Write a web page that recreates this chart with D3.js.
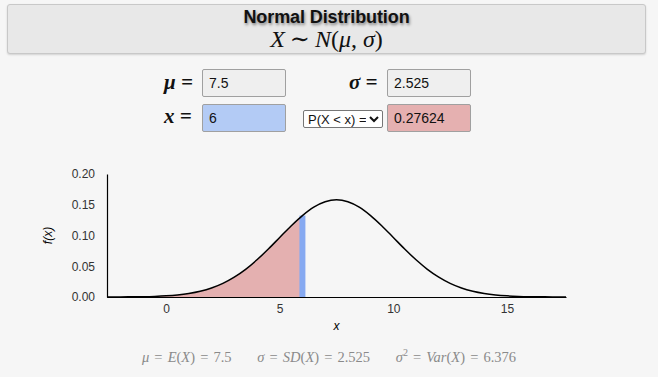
<!DOCTYPE html>
<html>
<head>
<meta charset="utf-8">
<script src="https://cdn.jsdelivr.net/npm/d3@7"></script>
<style>
  body { margin: 0; background: #f6f6f6; font-family: "Liberation Sans", Arial, sans-serif; width: 658px; height: 377px; overflow: hidden; position: relative; }
  .title-box { position: absolute; left: 7px; top: 4px; width: 637px; height: 48px; background: #e8e8e8; border: 1px solid #c8c8c8; border-radius: 3px; box-shadow: 0 1px 2px rgba(0,0,0,0.15); text-align: center; }
  .title { font-weight: bold; font-size: 18px; color: #111; margin-top: 3px; line-height: 18px; text-shadow: 1px 2px 3px rgba(0,0,0,0.45); letter-spacing: -0.1px; }
  .formula { font-family: "Liberation Serif", "DejaVu Serif", serif; font-style: italic; font-size: 24px; line-height: 24px; color: #111; margin-top: 1px; }
  .formula .up { font-style: normal; }
  .formula .rel { font-style: normal; margin: 0 5px; }
  .lbl { position: absolute; font-family: "Liberation Serif", "DejaVu Serif", serif; font-size: 21px; font-style: italic; font-weight: bold; color: #111; }
  .box { position: absolute; box-sizing: border-box; height: 28px; width: 84px; border: 1px solid #a0a0a0; border-radius: 2px; background: #efefef; font-size: 14px; line-height: 26px; padding-left: 6px; color: #111; }
  select { position: absolute; left: 303px; top: 110px; width: 80px; height: 18px; font-size: 13px; font-family: "Liberation Sans", Arial, sans-serif; padding: 0; border: 1px solid #767676; border-radius: 2px; background: #fff; color: #111; }
  .footer { position: absolute; left: 0; width: 658px; top: 347px; text-align: center; font-family: "Liberation Serif", "DejaVu Serif", serif; font-size: 14.5px; color: #8a8a8a; word-spacing: 1.5px; }
  svg { position: absolute; left: 0; top: 0; }
</style>
</head>
<body>
<div class="title-box">
  <div class="title">Normal Distribution</div>
  <div class="formula">X<span class="rel">∼</span>N<span class="up">(</span>μ<span class="up">,</span> σ<span class="up">)</span></div>
</div>
<div id="controls"></div>
<svg id="chart" width="658" height="377"></svg>
<div class="footer" id="footer"></div>
<script>
// Parameters shown in the inputs
const mu = 7.5;
const sigma = 2.525;
const xValue = 6;
const probLabel = "P(X < x) =";
const probValue = "0.27624";
const variance = "6.376";

// Density curve
const curveX = [-2.6, -2.5, -2, -1.5, -1, -0.5, 0, 0.5, 1, 1.5, 2, 2.5, 3, 3.5, 4, 4.5, 5, 5.5, 6, 6.5, 7, 7.5,
                8, 8.5, 9, 9.5, 10, 10.5, 11, 11.5, 12, 12.5, 13, 13.5, 14, 14.5, 15, 15.5, 16, 16.5, 17, 17.5, 17.6];
const curveY = [0.0001, 0.0001, 0.0001, 0.0003, 0.0005, 0.0010, 0.0019, 0.0034, 0.0058, 0.0094, 0.0147, 0.0222,
                0.0323, 0.0450, 0.0605, 0.0780, 0.0968, 0.1155, 0.1324, 0.1461, 0.1549, 0.1580,
                0.1549, 0.1461, 0.1324, 0.1155, 0.0968, 0.0780, 0.0605, 0.0450, 0.0323, 0.0222, 0.0147,
                0.0094, 0.0058, 0.0034, 0.0019, 0.0010, 0.0005, 0.0003, 0.0001, 0.0001, 0.0001];
const xTicks = [0, 5, 10, 15];
const yTicks = [0, 0.05, 0.10, 0.15, 0.20];

// Controls
const controls = d3.select("#controls");
controls.append("div").attr("class", "lbl").style("left", "164px").style("top", "70px").text("μ =");
controls.append("div").attr("class", "box").style("left", "202px").style("top", "69px").text(mu);
controls.append("div").attr("class", "lbl").style("left", "349px").style("top", "70px").text("σ =");
controls.append("div").attr("class", "box").style("left", "387px").style("top", "69px").text(sigma);
controls.append("div").attr("class", "lbl").style("left", "164px").style("top", "104px").text("x =");
controls.append("div").attr("class", "box").style("left", "202px").style("top", "104px").style("background", "#b3cbf5").text(xValue);
controls.append("select").append("option").text(probLabel);
controls.append("div").attr("class", "box").style("left", "387px").style("top", "104px").style("background", "#e5b0b0").text(probValue);

d3.select("#footer").html(
  `<i>μ</i> = <i>E</i>(<i>X</i>) = ${mu} &nbsp;&nbsp;&nbsp; <i>σ</i> = <i>SD</i>(<i>X</i>) = ${sigma} &nbsp;&nbsp;&nbsp; <i>σ</i><sup style="font-size:10px">2</sup> = <i>Var</i>(<i>X</i>) = ${variance}`
);

// Chart
const margin = { top: 174, left: 107 },
      width = 459,
      height = 123;

const svg = d3.select("#chart")
              .append("g")
              .attr("transform", `translate(${margin.left},${margin.top})`);

const data = curveX.map((x, i) => ({ x: x, y: curveY[i] }));

const x = d3.scaleLinear().domain([curveX[0], curveX[curveX.length - 1]]).range([0, width]);
const y = d3.scaleLinear().domain([0, 0.2]).range([height, 0]);

// Shaded area up to x
const area = d3.area().x(d => x(d.x)).y0(height).y1(d => y(d.y)).curve(d3.curveMonotoneX);
svg.append("path")
   .datum(data.filter(d => d.x <= xValue))
   .attr("d", area)
   .attr("fill", "#e4b0b0");

// Marker at x
const fx = curveY[curveX.indexOf(xValue)];
svg.append("line")
   .attr("x1", x(xValue)).attr("x2", x(xValue))
   .attr("y1", height).attr("y2", y(fx))
   .attr("stroke", "#86a9f1")
   .attr("stroke-width", 6);

// Density curve
const line = d3.line().x(d => x(d.x)).y(d => y(d.y)).curve(d3.curveMonotoneX);
svg.append("path")
   .datum(data)
   .attr("d", line)
   .attr("fill", "none")
   .attr("stroke", "#000")
   .attr("stroke-width", 1.5);

// Axes
const xAxis = svg.append("g")
   .attr("transform", `translate(0,${height})`)
   .call(d3.axisBottom(x).tickValues(xTicks).tickSize(0).tickPadding(7));
const yAxis = svg.append("g")
   .call(d3.axisLeft(y).tickValues(yTicks).tickFormat(d3.format(".2f")).tickSize(0).tickPadding(12));

[xAxis, yAxis].forEach(g => {
  g.select(".domain").attr("stroke", "#000").attr("stroke-width", 1.2);
  g.selectAll("text").attr("font-size", 12).attr("fill", "#333")
   .attr("font-family", "'Liberation Sans', Arial, sans-serif");
});

// Axis labels
svg.append("text")
   .attr("x", width / 2)
   .attr("y", height + 33)
   .attr("text-anchor", "middle")
   .attr("font-size", 12)
   .attr("font-style", "italic")
   .attr("font-family", "'Liberation Sans', Arial, sans-serif")
   .text("x");

svg.append("text")
   .attr("transform", "rotate(-90)")
   .attr("x", -height / 2)
   .attr("y", -55)
   .attr("text-anchor", "middle")
   .attr("font-size", 12)
   .attr("font-style", "italic")
   .attr("font-family", "'Liberation Sans', Arial, sans-serif")
   .text("f(x)");
</script>
</body>
</html>
